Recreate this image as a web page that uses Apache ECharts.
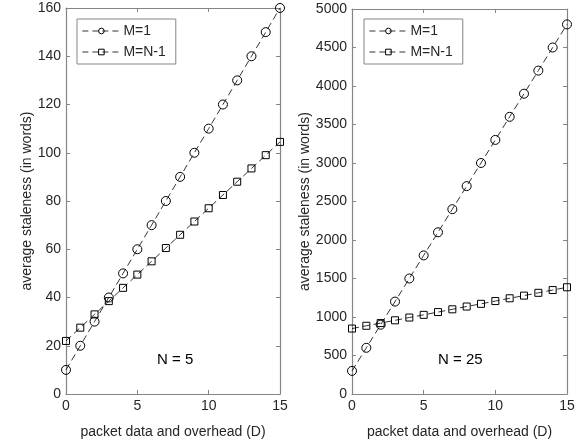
<!DOCTYPE html>
<html>
<head>
<meta charset="utf-8">
<script src="https://cdn.jsdelivr.net/npm/echarts@6/dist/echarts.min.js"></script>
<style>
  html, body { margin: 0; padding: 0; background: #fff; }
  #chart { width: 587px; height: 444px; }
</style>
</head>
<body>
<div id="chart"></div>
<script>
let dValues = [0, 1, 2, 3, 4, 5, 6, 7, 8, 9, 10, 11, 12, 13, 14, 15];

// N = 5
let leftM1 = [10, 20, 30, 40, 50, 60, 70, 80, 90, 100, 110, 120, 130, 140, 150, 160];
let leftMN1 = [22, 27.5, 33, 38.5, 44, 49.5, 55, 60.5, 66, 71.5, 77, 82.5, 88, 93.5, 99, 104.5];

// N = 25
let rightM1 = [300, 600, 900, 1200, 1500, 1800, 2100, 2400, 2700, 3000, 3300, 3600, 3900, 4200, 4500, 4800];
let rightMN1 = [850, 886, 921, 957, 993, 1028, 1064, 1100, 1136, 1171, 1207, 1243, 1278, 1314, 1350, 1386];

let seriesNames = ['M=1', 'M=N-1'];
let panelLabels = ['N = 5', 'N = 25'];

let font = 'Liberation Sans, Arial, sans-serif';
let ink = '#262626';
let axisGrey = '#858585';

function pairs(ys) {
  return dValues.map(function (d, i) { return [d, ys[i]]; });
}

function mainX(gi) {
  return {
    type: 'value', gridIndex: gi, min: 0, max: 15, interval: 5,
    name: 'packet data and overhead (D)', nameLocation: 'middle', nameGap: 31,
    nameTextStyle: { fontFamily: font, fontSize: 14, color: ink },
    axisLine: { show: true, onZero: false, lineStyle: { color: axisGrey, width: 1.2 } },
    axisTick: { show: true, inside: true, length: 4, lineStyle: { color: axisGrey } },
    axisLabel: { fontFamily: font, fontSize: 14, color: ink, margin: 5 },
    splitLine: { show: false }
  };
}
function topX(gi) {
  return {
    type: 'value', gridIndex: gi, min: 0, max: 15, interval: 5, position: 'top',
    axisLine: { show: true, onZero: false, lineStyle: { color: axisGrey, width: 1.2 } },
    axisTick: { show: true, inside: true, length: 4, lineStyle: { color: axisGrey } },
    axisLabel: { show: false }, splitLine: { show: false }
  };
}
function mainY(gi, max, interval, gap) {
  return {
    type: 'value', gridIndex: gi, min: 0, max: max, interval: interval,
    name: 'average staleness (in words)', nameLocation: 'middle', nameGap: gap,
    nameTextStyle: { fontFamily: font, fontSize: 14, color: ink },
    axisLine: { show: true, onZero: false, lineStyle: { color: axisGrey, width: 1.2 } },
    axisTick: { show: true, inside: true, length: 4, lineStyle: { color: axisGrey } },
    axisLabel: { fontFamily: font, fontSize: 14, color: ink, margin: 5,
      formatter: function (v) { return String(v); } },
    splitLine: { show: false }
  };
}
function rightY(gi, max, interval) {
  return {
    type: 'value', gridIndex: gi, min: 0, max: max, interval: interval, position: 'right',
    axisLine: { show: true, onZero: false, lineStyle: { color: axisGrey, width: 1.2 } },
    axisTick: { show: true, inside: true, length: 4, lineStyle: { color: axisGrey } },
    axisLabel: { show: false }, splitLine: { show: false }
  };
}

function lineSeries(name, data, symbol, size, xi, yi) {
  return {
    name: name, type: 'line', data: pairs(data),
    xAxisIndex: xi, yAxisIndex: yi,
    symbol: symbol, symbolSize: size,
    lineStyle: { color: '#000', width: 0.8, type: [7, 4] },
    itemStyle: { color: 'rgba(0,0,0,0)', borderColor: '#000', borderWidth: 1 },
    animation: false
  };
}

function legendAt(left, top) {
  return {
    left: left, top: top, orient: 'vertical',
    data: seriesNames,
    backgroundColor: '#fff', borderColor: axisGrey, borderWidth: 1,
    padding: [5, 10, 5, 5], itemGap: 7, itemWidth: 38, itemHeight: 7,
    lineStyle: { width: 0.8, color: '#000', type: [6, 4] },
    itemStyle: { color: 'rgba(0,0,0,0)', borderColor: '#000', borderWidth: 1 },
    textStyle: { fontFamily: font, fontSize: 14, color: ink, padding: [0, 0, 0, -2] },
    selectedMode: false
  };
}

let option = {
  backgroundColor: '#fff',
  animation: false,
  grid: [
    { left: 66, right: 307, top: 8, bottom: 50 },
    { left: 352, right: 20, top: 9, bottom: 50 }
  ],
  xAxis: [mainX(0), topX(0), mainX(1), topX(1)],
  yAxis: [mainY(0, 160, 20, 32), rightY(0, 160, 20), mainY(1, 5000, 500, 39), rightY(1, 5000, 500)],
  legend: [legendAt(77, 19), legendAt(364, 19)],
  series: [
    lineSeries(seriesNames[0], leftM1, 'circle', 9, 0, 0),
    lineSeries(seriesNames[1], leftMN1, 'rect', 7, 0, 0),
    lineSeries(seriesNames[0], rightM1, 'circle', 9, 2, 2),
    lineSeries(seriesNames[1], rightMN1, 'rect', 7, 2, 2)
  ],
  graphic: [
    { type: 'text', left: 157, top: 352, style: { text: panelLabels[0], font: '15px ' + font, fill: '#000' } },
    { type: 'text', left: 438, top: 352, style: { text: panelLabels[1], font: '15px ' + font, fill: '#000' } }
  ]
};

let chart = echarts.init(document.getElementById('chart'));
chart.setOption(option);
</script>
</body>
</html>
